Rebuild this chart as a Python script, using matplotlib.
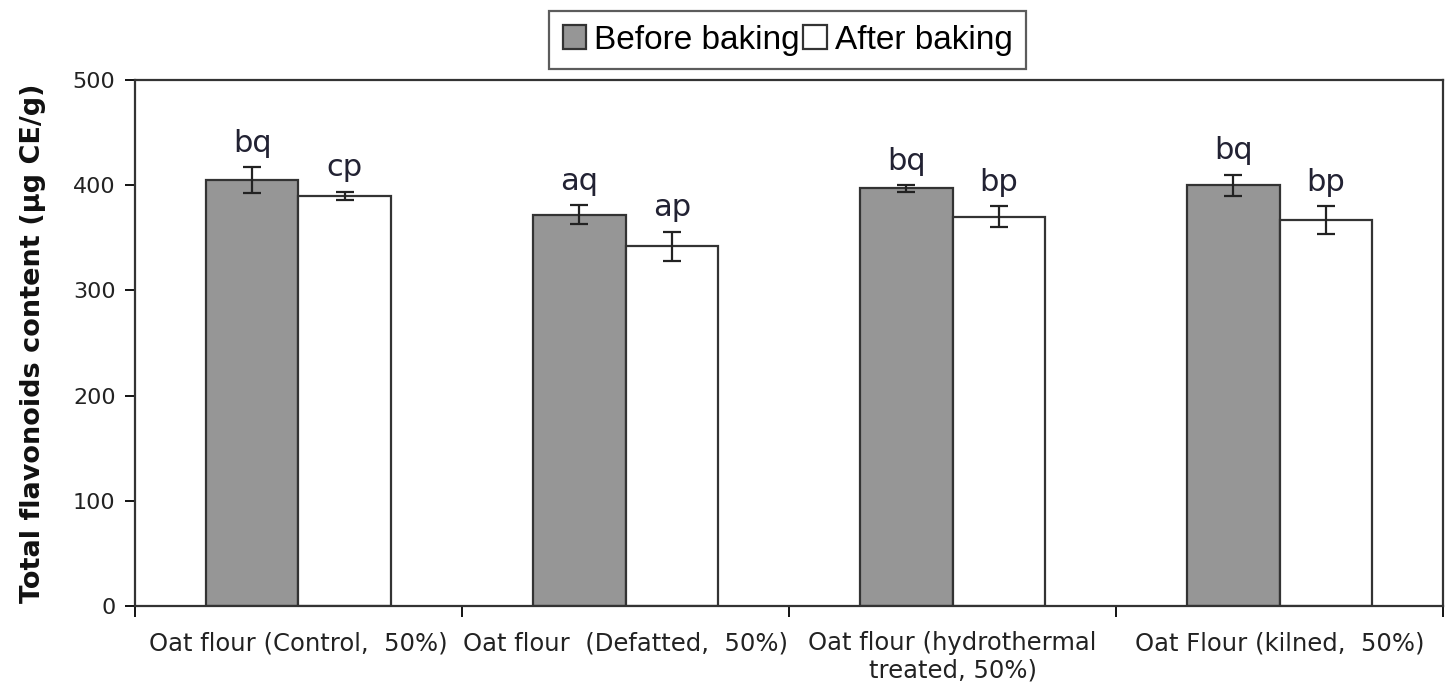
import numpy as np
import matplotlib.pyplot as plt

plt.rcParams['font.family'] = ['DejaVu Sans']

# data
categories = ['Oat flour (Control,  50%)', 'Oat flour  (Defatted,  50%)',
              'Oat flour (hydrothermal\ntreated, 50%)', 'Oat Flour (kilned,  50%)']
before = [405, 372, 397, 400]
before_err = [12, 9, 3, 10]
after = [390, 342, 370, 367]
after_err = [4, 14, 10, 13]
before_letters = ['bq', 'aq', 'bq', 'bq']
after_letters = ['cp', 'ap', 'bp', 'bp']

fig = plt.figure(figsize=(14.48, 6.91), dpi=100)
ax = fig.add_axes([0.0932, 0.123, 0.9035, 0.761])

x = np.arange(len(categories))
w = 0.283
edge = '#333333'
ax.bar(x - w / 2, before, w, color='#969696', edgecolor=edge, linewidth=1.6,
       label='Before baking', zorder=2)
ax.bar(x + w / 2, after, w, color='white', edgecolor=edge, linewidth=1.6,
       label='After baking', zorder=2)
ax.errorbar(x - w / 2, before, yerr=before_err, fmt='none', ecolor='#222222',
            elinewidth=1.6, capsize=6.5, capthick=1.6, zorder=3)
ax.errorbar(x + w / 2, after, yerr=after_err, fmt='none', ecolor='#222222',
            elinewidth=1.6, capsize=6.5, capthick=1.6, zorder=3)

for i in range(len(categories)):
    ax.text(x[i] - w / 2, before[i] + before_err[i] + 9, before_letters[i],
            ha='center', va='bottom', fontsize=22, color='#222233')
    ax.text(x[i] + w / 2, after[i] + after_err[i] + 9, after_letters[i],
            ha='center', va='bottom', fontsize=22, color='#222233')

ax.set_xlim(-0.5, len(categories) - 0.5)
ax.set_ylim(0, 500)
ax.set_yticks(range(0, 501, 100))
ax.tick_params(axis='y', labelsize=16, length=7, width=1.3, direction='out',
               pad=7, labelcolor='#222222')

ax.set_xticks(np.arange(-0.5, len(categories), 1.0))
ax.set_xticklabels([])
ax.set_xticks(x, minor=True)
ax.set_xticklabels(categories, minor=True, fontsize=17.5, color='#222222')
ax.tick_params(axis='x', which='major', length=8, width=1.3, direction='out')
ax.tick_params(axis='x', which='minor', length=0, pad=18)

for s in ax.spines.values():
    s.set_linewidth(1.6)
    s.set_color('#333333')

ax.set_ylabel('Total flavonoids content (\u00b5g CE/g)', fontsize=19.5,
              fontweight='bold', color='#111111')
ax.yaxis.set_label_coords(-0.068, 0.5)

leg = fig.legend(loc='center', bbox_to_anchor=(0.544, 0.942), ncol=2, fontsize=22,
                 frameon=True, fancybox=False, edgecolor='#333333',
                 handlelength=0.7, handleheight=0.7, handletextpad=0.25,
                 columnspacing=0.1, borderpad=0.4, prop={'family': 'Liberation Sans', 'size': 24})
leg.get_frame().set_linewidth(1.6)

fig.savefig('out.png', dpi=100)
